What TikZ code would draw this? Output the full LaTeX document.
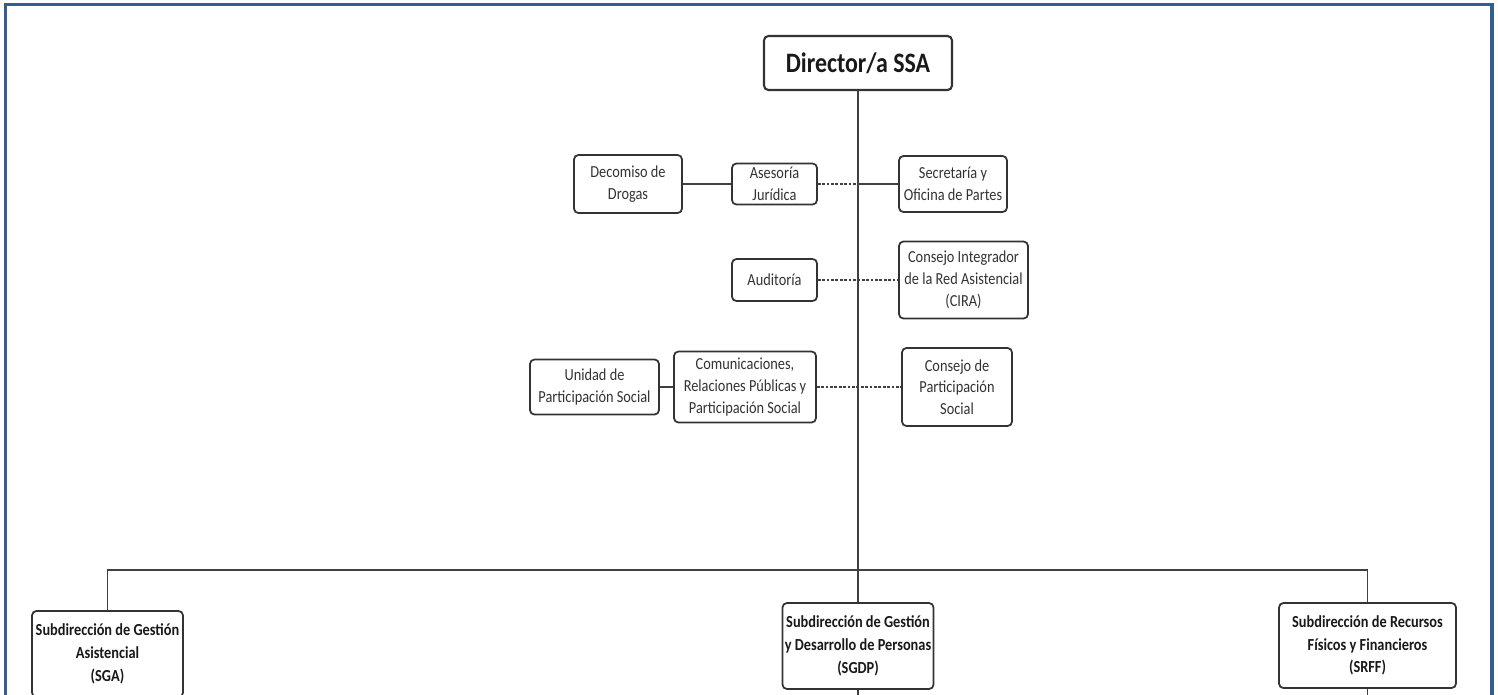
\documentclass[tikz,border=0pt]{standalone}
\usepackage{fontspec}
\setmainfont{Carlito}[FakeStretch=0.85]
\usetikzlibrary{positioning}
\definecolor{frameblue}{RGB}{52,94,145}

\begin{document}
\begin{tikzpicture}[
    x=0.02cm, y=-0.02cm,
    unit/.style={rectangle, draw=black!80, line width=1pt, rounded corners=2.5pt, fill=white, align=center, inner sep=1pt, text=black!80, font=\fontsize{9.6}{12.4}\selectfont},
    head/.style={unit, line width=1.2pt, text=black!90, font=\fontsize{16}{19}\selectfont\bfseries},
    subdir/.style={unit, text=black!90, font=\fontsize{9.6}{13}\selectfont\bfseries},
    link/.style={black!75, line width=0.7pt},
    advice/.style={link, dash pattern=on 1.6pt off 0.9pt}
]
    \useasboundingbox (0,0) rectangle (1498,694);
    \draw[frameblue, line width=2pt] (5.5,4.5) rectangle (1492,730);

    % director
    \node[head, minimum width=3.76cm, minimum height=1.08cm] (director) at (858,63) {Director/a SSA};

    % staff units
    \node[unit, minimum width=2.16cm, minimum height=1.16cm] (decomiso) at (628,184) {Decomiso de\\Drogas};
    \node[unit, minimum width=1.70cm, minimum height=0.82cm] (asesoria) at (774.5,184) {Asesoría\\Jurídica};
    \node[unit, minimum width=2.16cm, minimum height=1.12cm] (secretaria) at (953,184) {Secretaría y\\Oficina de Partes};
    \node[unit, minimum width=1.70cm, minimum height=0.84cm] (auditoria) at (774.5,280) {Auditoría};
    \node[unit, minimum width=2.58cm, minimum height=1.54cm] (cira) at (963.5,280) {Consejo Integrador\\de la Red Asistencial\\(CIRA)};
    \node[unit, minimum width=2.58cm, minimum height=1.10cm] (unidad) at (594.5,387) {Unidad de\\Participación Social};
    \node[unit, minimum width=2.84cm, minimum height=1.42cm] (comunic) at (745,387) {Comunicaciones,\\Relaciones Públicas y\\Participación Social};
    \node[unit, minimum width=2.20cm, minimum height=1.56cm] (consejo) at (957,387) {Consejo de\\Participación\\Social};

    % subdirecciones
    \node[subdir, minimum width=3.02cm, minimum height=1.72cm] (sga) at (107.5,654) {Subdirección de Gestión\\Asistencial\\(SGA)};
    \node[subdir, minimum width=3.02cm, minimum height=1.72cm] (sgdp) at (858,646) {Subdirección de Gestión\\y Desarrollo de Personas\\(SGDP)};
    \node[subdir, minimum width=3.54cm, minimum height=1.70cm] (srff) at (1367.5,645.5) {Subdirección de Recursos\\Físicos y Financieros\\(SRFF)};

    \coordinate (trunk1) at (858,184);
    \coordinate (bus) at (858,570);
    \coordinate (sgdpend) at (858,700);
    \coordinate (srffend) at (1367.5,700);

    \draw[link] (director) -- (sgdp);
    \draw[link] (sga) |- (bus) -| (srff);
    \draw[link] (sgdp) -- (sgdpend);
    \draw[link] (srff) -- (srffend);

    \draw[link] (decomiso) -- (asesoria);
    \draw[advice] (asesoria) -- (trunk1);
    \draw[link] (trunk1) -- (secretaria);
    \draw[advice] (auditoria) -- (cira);
    \draw[link] (unidad) -- (comunic);
    \draw[advice] (comunic) -- (consejo);
\end{tikzpicture}
\end{document}
